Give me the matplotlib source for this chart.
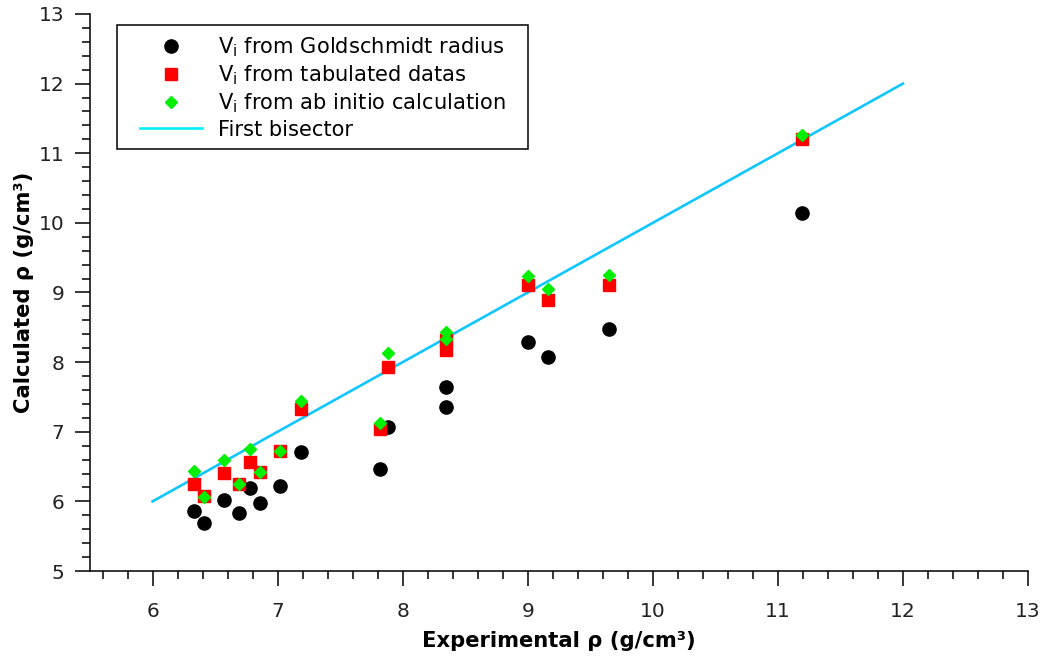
import numpy as np
import matplotlib
matplotlib.use('Agg')
import matplotlib.pyplot as plt
from matplotlib.ticker import MultipleLocator
from matplotlib.patches import Rectangle

# experimental density (x)
exp_rho = [6.335, 6.41, 6.575, 6.695, 6.78, 6.86, 7.02, 7.19, 7.82, 7.88,
           8.35, 8.35, 9.00, 9.16, 9.65, 11.19]
# calculated densities
rho_goldschmidt = [5.86, 5.69, 6.02, 5.83, 6.19, 5.98, 6.22, 6.71, 6.47, 7.07,
                   7.64, 7.36, 8.29, 8.07, 8.48, 10.14]
rho_tabulated = [6.25, 6.08, 6.41, 6.25, 6.57, 6.42, 6.72, 7.33, 7.04, 7.93,
                 8.32, 8.17, 9.11, 8.89, 9.11, 11.20]
rho_abinitio = [6.44, 6.06, 6.59, 6.25, 6.75, 6.42, 6.72, 7.44, 7.13, 8.13,
                8.43, 8.33, 9.24, 9.05, 9.25, 11.26]
bisector_x = [6, 12]

fig = plt.figure(figsize=(10.49, 6.59), dpi=100)
ax = fig.add_axes([0.0858, 0.1335, 0.8942, 0.8453])

ax.plot(exp_rho, rho_goldschmidt, 'o', color='black', ms=9.5,
        label=r'V$_\mathrm{i}$ from Goldschmidt radius', zorder=3)
ax.plot(exp_rho, rho_tabulated, 's', color='red', ms=9,
        label=r'V$_\mathrm{i}$ from tabulated datas', zorder=4)
ax.plot(exp_rho, rho_abinitio, 'D', color='#00ee00', ms=6.5,
        label=r'V$_\mathrm{i}$ from ab initio calculation', zorder=5)
ax.plot(bisector_x, bisector_x, '-', color='#10c6ff', lw=1.9,
        label='First bisector', zorder=2)

ax.set_xlim(5.5, 13)
ax.set_ylim(5, 13)
ax.xaxis.set_major_locator(MultipleLocator(1))
ax.xaxis.set_minor_locator(MultipleLocator(0.2))
ax.yaxis.set_major_locator(MultipleLocator(1))
ax.yaxis.set_minor_locator(MultipleLocator(0.2))
ax.xaxis.set_major_formatter(plt.FormatStrFormatter('%d'))
ax.yaxis.set_major_formatter(plt.FormatStrFormatter('%d'))

for s in ['top', 'right']:
    ax.spines[s].set_visible(False)
for s in ['left', 'bottom']:
    ax.spines[s].set_linewidth(1.1)

ax.tick_params(which='major', length=10.5, width=1.1, labelsize=14.5, pad=12,
               colors='black', labelcolor='#222222')
ax.tick_params(which='minor', length=6, width=1.1)
ax.tick_params(axis='y', which='major', pad=8)

ax.set_xlabel('Experimental ρ (g/cm³)', fontsize=15.2, fontweight='bold', labelpad=7)
ax.set_ylabel('Calculated ρ (g/cm³)', fontsize=15.2, fontweight='bold', labelpad=3)

# legend without its own frame, box drawn separately
leg = ax.legend(loc='upper left', bbox_to_anchor=(0.0528, 0.962), fontsize=15.1,
                frameon=False, handlelength=3.0, labelspacing=0.22, borderpad=0,
                handletextpad=0.72, borderaxespad=0)
leg.legend_handles[3].set_color('#00eeff')
ax.add_patch(Rectangle((0.0288, 0.7576), 0.4382, 0.2227, transform=ax.transAxes,
                       fill=False, edgecolor='black', lw=1.1, clip_on=False, zorder=6))

fig.savefig('out.png', dpi=100)
